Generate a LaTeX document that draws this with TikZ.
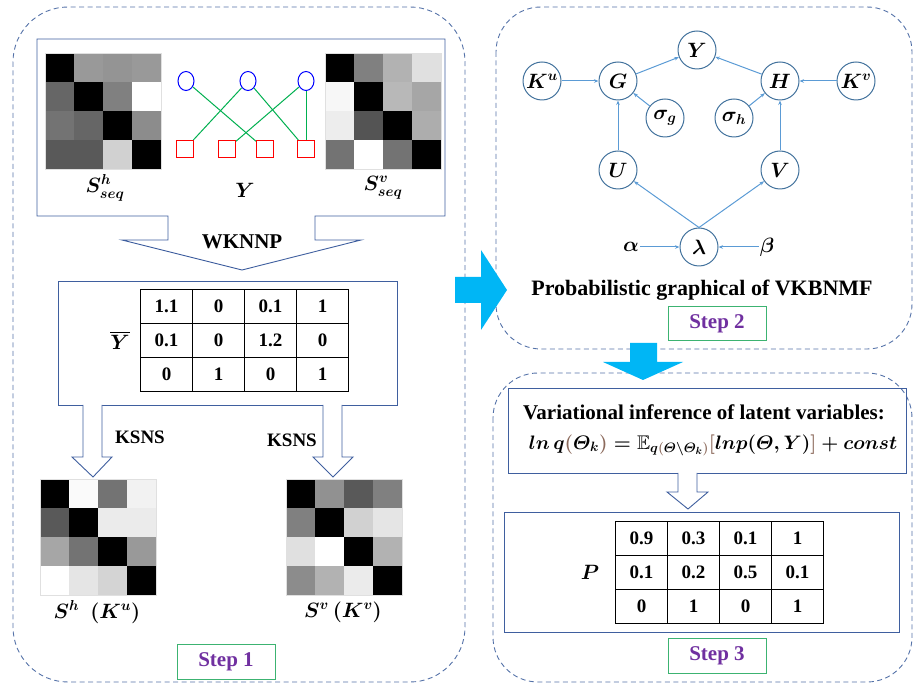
\documentclass[tikz,border=0pt]{standalone}
\usepackage{amsmath,amssymb,graphicx}
\usepackage{fontspec}
\setmainfont{Liberation Serif}
\usepackage{tikz}
\usetikzlibrary{arrows.meta,positioning,calc,matrix,shapes.geometric}
\definecolor{frameblue}{HTML}{3F5F9F}
\definecolor{dashblue}{HTML}{5472A8}
\definecolor{edgeblue}{HTML}{5B9BD5}
\definecolor{nodeblue}{HTML}{41719C}
\definecolor{arrowcyan}{HTML}{00B6F5}
\definecolor{stepgreen}{HTML}{3CB371}
\definecolor{steppurple}{HTML}{7030A0}
\definecolor{bipgreen}{HTML}{00B050}
\definecolor{brk}{HTML}{8C6A5C}
\newcommand{\fsz}[1]{\fontsize{#1}{#1}\selectfont}
% 4x4 grey map, top-left corner (#1,#2), black levels row by row
\newcommand{\HeatMap}[3]{%
  \foreach \v [count=\k from 0] in {#3} {
    \pgfmathtruncatemacro{\col}{mod(\k,4)}
    \pgfmathtruncatemacro{\row}{div(\k,4)}
    \fill[black!\v] (#1+29*\col,#2+29*\row) rectangle ++(29,29);
  }
  \draw[black!12] (#1,#2) rectangle ++(116,116);
}
\begin{document}
\begin{tikzpicture}[x=1pt,y=-1pt,
  gnode/.style={circle, draw=nodeblue, line width=1pt, minimum size=38pt, inner sep=0pt, font=\fsz{21}\boldmath},
  gedge/.style={draw=edgeblue, line width=1pt, -{Stealth[length=4.5pt,width=3.5pt]}},
  stepbox/.style={draw=stepgreen, line width=1pt, minimum width=98pt, minimum height=34pt, text=steppurple, font=\fsz{21}\bfseries},
  dashbox/.style={draw=dashblue, dash pattern=on 5pt off 3.5pt, line width=0.9pt},
  frame/.style={draw=frameblue, line width=0.9pt},
  hollow/.style={frame, fill=white, line join=miter},
  bigarrow/.style={fill=arrowcyan},
  bluecirc/.style={ellipse, draw=blue, line width=1pt, minimum width=16pt, minimum height=19pt, inner sep=0pt},
  redsq/.style={draw=red, line width=1pt, minimum size=17pt, inner sep=0pt},
  bip/.style={draw=bipgreen, line width=1pt},
  valtable/.style={matrix of nodes, nodes={draw, line width=0.9pt, minimum width=52pt, minimum height=34pt, inner sep=0pt, anchor=center, font=\fsz{19}\bfseries}, column sep=-0.9pt, row sep=-0.9pt},
  lbl/.style={font=\fsz{22}\boldmath},
  txt/.style={font=\fsz{21}\bfseries}]
\useasboundingbox (0,0) rectangle (914,684);

% outer dashed panels
\draw[dashbox, rounded corners=55pt] (13,7) rectangle (465,682);
\draw[dashbox, rounded corners=45pt] (496,7) rectangle (912,349);
\draw[dashbox, rounded corners=45pt] (493,373) rectangle (912,682);

% ---- step 1 ----
\draw[hollow] (37,39) -- (445,39) -- (445,216) -- (315,216) -- (315,240) -- (361,240)
  -- (242,270) -- (122,240) -- (168,240) -- (168,216) -- (37,216) -- cycle;
\HeatMap{45}{53}{100,40,42,40, 60,100,50,0, 55,60,100,45, 65,65,18,100}
\HeatMap{325}{53}{100,50,30,12, 3,100,28,35, 7,67,100,32, 55,0,55,100}
\node (shseq) [lbl] at (105,188) {$S^{h}_{seq}$};
\node (svseq) [lbl] at (383,188) {$S^{v}_{seq}$};
\node (ylbl) [lbl] at (245,190) {$Y$};

% bipartite drug/target graph
\node (c1) [bluecirc] at (186,81) {};
\node (c2) [bluecirc] at (248,81) {};
\node (c3) [bluecirc] at (306,81) {};
\node (q1) [redsq] at (185,149) {};
\node (q2) [redsq] at (227,149) {};
\node (q3) [redsq] at (265,149) {};
\node (q4) [redsq] at (306,149) {};
\draw[bip] (c1) -- (q3);
\draw[bip] (c2) -- (q1);
\draw[bip] (c2) -- (q4);
\draw[bip] (c3) -- (q2);
\draw[bip] (c3) -- (q4);

\node (wknnp) [txt] at (242,242) {WKNNP};

\draw[frame] (58,281) rectangle (397,405);
\node (ybar) [lbl] at (120,340) {$\overline{Y}$};
\matrix (ymat) [valtable] at (244.5,340.5) {
  1.1 & 0 & 0.1 & 1 \\
  0.1 & 0 & 1.2 & 0 \\
  0 & 1 & 0 & 1 \\
};

\draw[hollow] (83,405) -- (83,457) -- (72,457) -- (93,477) -- (112,457) -- (102,457) -- (102,405);
\draw[hollow] (323,405) -- (323,457) -- (313,457) -- (333,477) -- (353,457) -- (342,457) -- (342,405);
\node (ksnsl) [font=\fsz{19}\bfseries] at (140,437) {KSNS};
\node (ksnsr) [font=\fsz{19}\bfseries] at (292,440) {KSNS};

\HeatMap{40}{479}{100,2,55,5, 65,100,8,8, 35,55,100,40, 0,10,17,100}
\HeatMap{286}{479}{100,43,65,50, 50,100,18,10, 12,0,100,30, 45,30,8,100}
\node (shlbl) [lbl] at (97,612) {$S^{h}\ \ (K^{u})$};
\node (svlbl) [lbl] at (343,612) {$S^{v}\,(K^{v})$};

\node (step1) [stepbox] at (226,662) {Step 1};

% cyan transfer arrows
\fill[bigarrow] (455,277) -- (481,277) -- (481,250) -- (507,290) -- (481,330) -- (481,303) -- (455,303) -- cycle;
\fill[bigarrow] (630,343) -- (657,343) -- (657,362) -- (683,362) -- (643,380) -- (603,362) -- (630,362) -- cycle;

% ---- step 2: graphical model ----
\node (y) [gnode] at (697,50) {$Y$};
\node (g) [gnode] at (618,81) {$G$};
\node (ku) [gnode] at (542,81) {$K^{u}$};
\node (h) [gnode] at (780,81) {$H$};
\node (kv) [gnode] at (856,81) {$K^{v}$};
\node (sg) [gnode] at (665,118) {$\sigma_{g}$};
\node (sh) [gnode] at (734,118) {$\sigma_{h}$};
\node (u) [gnode] at (618,170) {$U$};
\node (v) [gnode] at (780,170) {$V$};
\node (lam) [gnode] at (699,247) {$\lambda$};
\node (alpha) [font=\fsz{21}\boldmath, inner sep=1pt] at (631,247) {$\alpha$};
\node (beta) [font=\fsz{21}\boldmath, inner sep=1pt] at (767,247) {$\beta$};
\draw[gedge] (ku) -- (g);
\draw[gedge] (g) -- (y);
\draw[gedge] (h) -- (y);
\draw[gedge] (kv) -- (h);
\draw[gedge] (sg) -- (g);
\draw[gedge] (sh) -- (h);
\draw[gedge] (u) -- (g);
\draw[gedge] (v) -- (h);
\draw[gedge] (lam.north) -- (u);
\draw[gedge] (lam.north) -- (v);
\draw[gedge] (alpha) -- (lam);
\draw[gedge] (beta) -- (lam);
\node (pgm) [font=\fsz{22}\bfseries] at (702,290) {Probabilistic graphical of VKBNMF};
\node (step2) [stepbox, fill=white] at (717,324) {Step 2};

% ---- step 3 ----
\draw[frame] (508,388) rectangle (906,473);
\node (vi) [font=\fsz{21}\bfseries] at (704,412) {Variational inference of latent variables:};
\node (elbo) [font=\fsz{21}\boldmath] at (713,445)
  {\scalebox{0.94}{$ln\,q{\color{brk}(}\varTheta_{k}{\color{brk})} = \mathbb{E}_{q{\color{brk}(}\varTheta\setminus\varTheta_{k}{\color{brk})}}{\color{brk}[}lnp(\varTheta,Y){\color{brk}]} + const$}};
\draw[hollow] (678,473) -- (678,492) -- (667,492) -- (688,509) -- (708,492) -- (697,492) -- (697,473);
\draw[frame] (504,512) rectangle (899,632);
\node (plbl) [lbl] at (590,572) {$P$};
\matrix (pmat) [valtable] at (719.5,572) {
  0.9 & 0.3 & 0.1 & 1 \\
  0.1 & 0.2 & 0.5 & 0.1 \\
  0 & 1 & 0 & 1 \\
};
\node (step3) [stepbox] at (717,656) {Step 3};
\end{tikzpicture}
\end{document}
